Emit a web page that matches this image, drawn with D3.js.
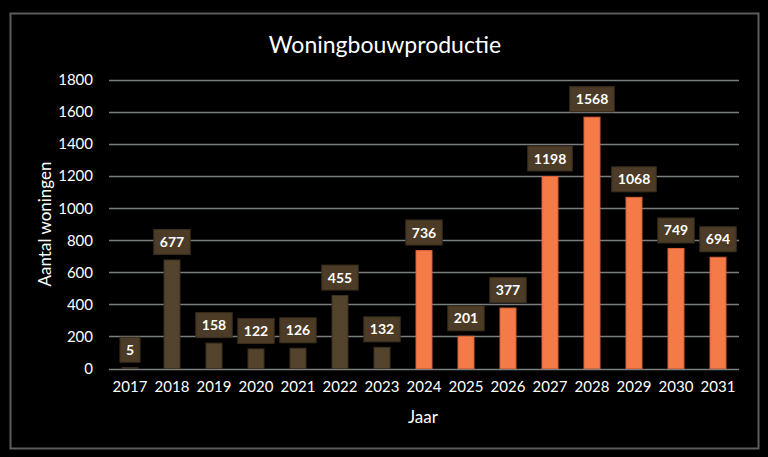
<!DOCTYPE html>
<html>
<head>
<meta charset="utf-8">
<script src="https://cdn.jsdelivr.net/npm/d3@7"></script>
<style>
  html, body { margin: 0; padding: 0; background: #000; }
  svg { display: block; }
</style>
</head>
<body>
<script>
// Chart data
const years = ['2017', '2018', '2019', '2020', '2021', '2022', '2023', '2024',
  '2025', '2026', '2027', '2028', '2029', '2030', '2031'];
const production = [5, 677, 158, 122, 126, 455, 132, 736, 201, 377, 1198, 1568, 1068, 749, 694];
const firstForecastYear = '2024';
const yTicks = [0, 200, 400, 600, 800, 1000, 1200, 1400, 1600, 1800];

const width = 768;
const height = 457;
const margin = { top: 80, right: 29, bottom: 88, left: 109 };
const font = 'Lato, "Open Sans", sans-serif';

const svg = d3.select('body')
  .append('svg')
  .attr('width', width)
  .attr('height', height);

svg.append('rect')
  .attr('width', width)
  .attr('height', height)
  .attr('fill', '#000');

// Outer frame
svg.append('rect')
  .attr('x', 10.5)
  .attr('y', 13.5)
  .attr('width', 748)
  .attr('height', 435)
  .attr('fill', 'none')
  .attr('stroke', '#5c5c5c')
  .attr('stroke-width', 2);

const x = d3.scaleBand()
  .domain(years)
  .range([margin.left, width - margin.right])
  .paddingInner(0.62)
  .paddingOuter(0.31);

const y = d3.scaleLinear()
  .domain([0, 1800])
  .range([height - margin.bottom - 0.5, margin.top]);

// Gridlines
svg.append('g')
  .selectAll('line')
  .data(yTicks)
  .enter()
  .append('line')
  .attr('x1', margin.left)
  .attr('x2', width - margin.right)
  .attr('y1', d => Math.round(y(d)) + 0.5)
  .attr('y2', d => Math.round(y(d)) + 0.5)
  .attr('stroke', '#7a7f80')
  .attr('stroke-width', 1.5);

// Y axis labels
const yAxis = d3.axisLeft(y).tickValues(yTicks).tickFormat(d3.format('d')).tickSize(0).tickPadding(16);
svg.append('g')
  .attr('transform', `translate(${margin.left}, 0)`)
  .call(yAxis)
  .call(g => g.select('.domain').remove())
  .selectAll('text')
  .attr('fill', '#fff')
  .style('font-family', font)
  .style('font-size', '15px');

// X axis labels
const xAxis = d3.axisBottom(x).tickSize(0).tickPadding(13);
svg.append('g')
  .attr('transform', `translate(0, ${y(0)})`)
  .call(xAxis)
  .call(g => g.select('.domain').remove())
  .selectAll('text')
  .attr('fill', '#fff')
  .style('font-family', font)
  .style('font-size', '15px');

// Bars
const data = years.map((yr, i) => ({ year: yr, value: production[i] }));
const isForecast = d => +d.year >= +firstForecastYear;

svg.append('g')
  .selectAll('rect')
  .data(data)
  .enter()
  .append('rect')
  .attr('x', d => x(d.year))
  .attr('y', d => y(d.value))
  .attr('width', x.bandwidth())
  .attr('height', d => y(0) - y(d.value))
  .attr('fill', d => isForecast(d) ? '#f47a48' : '#54432d')
  .attr('stroke', d => isForecast(d) ? '#d8623a' : '#3e3120')
  .attr('stroke-width', 1);

// Value labels in boxes
const labels = svg.append('g')
  .selectAll('g')
  .data(data)
  .enter()
  .append('g')
  .attr('transform', d => `translate(${x(d.year) + x.bandwidth() / 2}, ${y(d.value) - 18})`);

labels.append('text')
  .attr('text-anchor', 'middle')
  .attr('dy', '0.36em')
  .attr('fill', '#fff')
  .style('font-family', font)
  .style('font-weight', 'bold')
  .style('font-size', '14px')
  .text(d => d.value);

labels.each(function () {
  const g = d3.select(this);
  const bb = g.select('text').node().getBBox();
  g.insert('rect', 'text')
    .attr('x', bb.x - 6)
    .attr('y', -12.5)
    .attr('width', bb.width + 12)
    .attr('height', 25)
    .attr('fill', '#4b3b27')
    .attr('stroke', '#3a2d1c')
    .attr('stroke-width', 1);
});

// Title
svg.append('text')
  .attr('x', 385)
  .attr('y', 53)
  .attr('text-anchor', 'middle')
  .attr('fill', '#fff')
  .style('font-family', font)
  .style('font-size', '23px')
  .text('Woningbouwproductie');

// Axis titles
svg.append('text')
  .attr('x', 423)
  .attr('y', 423)
  .attr('text-anchor', 'middle')
  .attr('fill', '#fff')
  .style('font-family', font)
  .style('font-size', '17px')
  .text('Jaar');

svg.append('text')
  .attr('transform', 'translate(51, 224) rotate(-90)')
  .attr('text-anchor', 'middle')
  .attr('fill', '#fff')
  .style('font-family', font)
  .style('font-size', '17px')
  .text('Aantal woningen');
</script>
</body>
</html>
